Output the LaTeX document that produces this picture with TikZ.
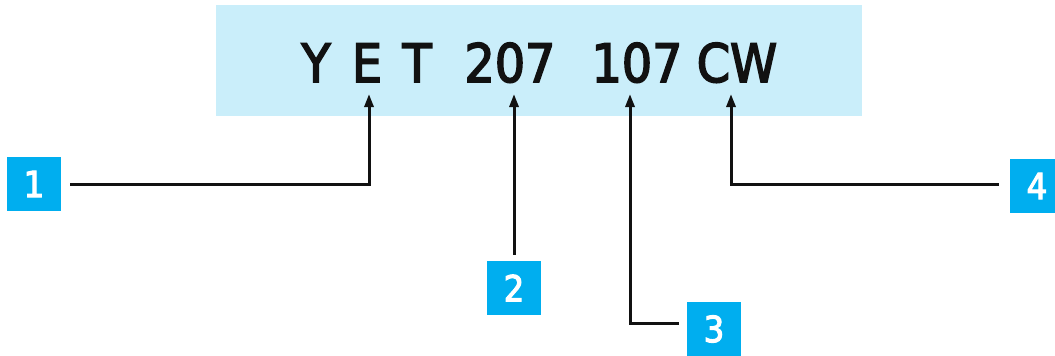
\documentclass[tikz,border=0pt]{standalone}
\usepackage{fontspec}
\setmainfont{DejaVu Sans Condensed}
\newfontfamily\platefont[FakeBold=3]{DejaVu Sans Condensed}
\usetikzlibrary{arrows.meta,positioning}
\definecolor{plateSky}{HTML}{CAEEFA}
\definecolor{plateBlue}{HTML}{00AEEF}
\definecolor{plateInk}{HTML}{111111}

\begin{document}
\begin{tikzpicture}[
  x=1pt,y=-1pt,
  plate/.style={anchor=base,inner sep=0pt,text=plateInk,font=\fontsize{53}{60}\platefont},
  badge/.style={fill=plateBlue,text=white,minimum size=54pt,inner sep=0pt,font=\fontsize{36}{40}\platefont},
  arr/.style={-{Triangle[length=13pt,width=9pt]},line width=3pt,plateInk}
]
  \useasboundingbox (0,0) rectangle (1055,356);
  \fill[plateSky] (216,5) rectangle (862,116);
  % plate characters
  \node[plate] (y) at (316,82) {Y};
  \node[plate] (e) at (367,82) {E};
  \node[plate] (t) at (417,82) {T};
  \node[plate] (grp) at (510,82) {207};
  \node[plate] (num) at (637,82) {107};
  \node[plate] (sfx) at (737,82) {CW};
  % arrow tips below the plate
  \coordinate (tE) at (369,94);
  \coordinate (tGrp) at (514,94);
  \coordinate (tNum) at (630,94);
  \coordinate (tSfx) at (731,94);
  % numbered badges
  \node[badge] (n1) at (34,184) {1};
  \node[badge] (n2) at (514,288) {2};
  \node[badge] (n3) at (714,329) {3};
  \node[badge] (n4) at (1037,186) {4};
  \draw[arr,shorten <=9pt] (n1.east) -| (tE);
  \draw[arr,shorten <=6pt] (n2.north) -- (tGrp);
  \draw[arr,shorten <=8pt] ([yshift=6pt]n3.west) -| (tNum);
  \draw[arr,shorten <=11pt] ([yshift=2pt]n4.west) -| (tSfx);
\end{tikzpicture}
\end{document}
